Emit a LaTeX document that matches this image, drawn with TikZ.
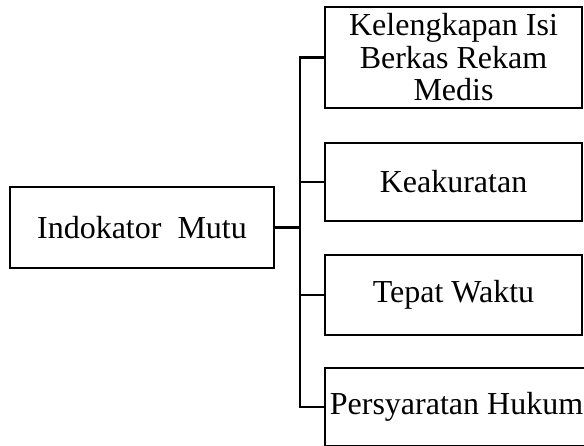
\documentclass[tikz,border=0pt]{standalone}
\usepackage{fontspec}
\setmainfont{Liberation Serif}
\usetikzlibrary{positioning}

\begin{document}
\begin{tikzpicture}[x=1pt, y=1pt, line width=2.2pt,
  mainbox/.style={draw, fill=white, inner sep=0pt, minimum width=264pt, minimum height=81pt, font=\fontsize{32}{32.5}\selectfont},
  itembox/.style={draw, fill=white, inner sep=0pt, minimum width=257pt, align=center, font=\fontsize{32}{32.5}\selectfont}]
  \useasboundingbox (0,0) rectangle (584,445);
  \clip (0,0) rectangle (584,445);
  \node[mainbox] (mutu) at (142,217.5) {Indokator\ \ Mutu};
  \node[itembox, minimum height=101pt] (lengkap) at (453.5,387.5) {Kelengkapan Isi\\Berkas Rekam\\Medis};
  \node[itembox, minimum height=78pt] (akurat) at (453.5,263) {Keakuratan};
  \node[itembox, minimum height=80pt] (tepat) at (453.5,150) {Tepat Waktu};
  \node[itembox, minimum width=263pt, minimum height=78pt] (hukum) at (456.5,38) {Persyaratan Hukum};
  \coordinate (trunk) at (300,217.5);
  \draw (mutu.east) -- (trunk);
  \draw (lengkap.west) -| (trunk) |- (hukum.west);
  \draw (akurat.west) -- (akurat.west -| trunk);
  \draw (tepat.west) -- (tepat.west -| trunk);
\end{tikzpicture}
\end{document}
